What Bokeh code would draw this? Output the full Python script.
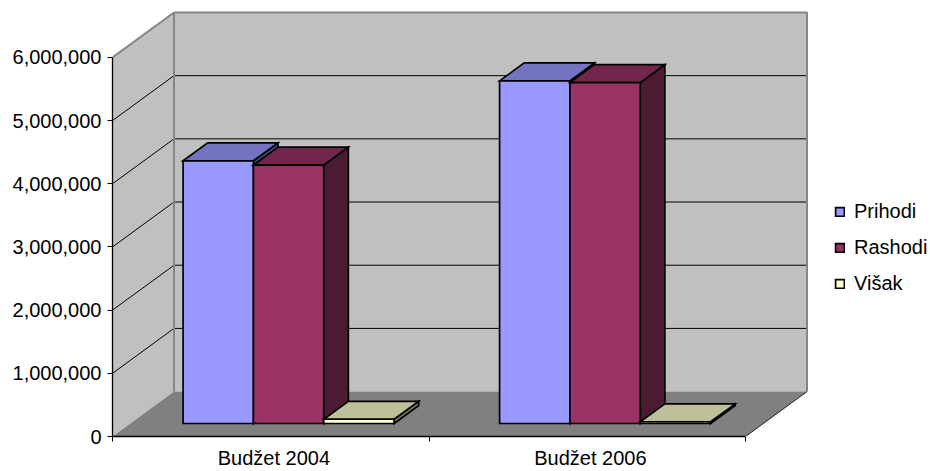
from bokeh.plotting import figure
from bokeh.models import (FixedTicker, NumeralTickFormatter, Legend, LegendItem, Range1d)
from bokeh.embed import file_html
from bokeh.resources import INLINE

categories = ["Budžet 2004", "Budžet 2006"]
series = ["Prihodi", "Rashodi", "Višak"]
prihodi = [4157000, 5422000]
rashodi = [4090000, 5395000]
visak = [67000, 27000]
values = [prihodi, rashodi, visak]
y_ticks = [0, 1000000, 2000000, 3000000, 4000000, 5000000, 6000000]

front_colors = ["#9999FF", "#993366", "#FFFFCC"]
top_colors = ["#7373BF", "#73264D", "#BFBF99"]
side_colors = ["#4D4D80", "#4D1A33", "#808066"]

FONT = "Liberation Sans"
FS = "20px"
W, H = 930, 471
L, B = 112, 437
CAT_PX = 316.5          # pixels per category
M_PX = 380 / 6000000    # pixels per value unit
DX = 61.5 / CAT_PX      # chart depth, x
DY = 45 / M_PX          # chart depth, y
BAR_W = 1 / 4.5
GAP = 0.75 * BAR_W
D0, D1 = 0.29, 0.69     # bar depth in chart depth fractions
YMAX = max(y_ticks)
n = len(categories)

p = figure(width=W, height=H, output_backend="svg", toolbar_location=None,
           x_range=Range1d(0, (W - L) / CAT_PX), y_range=Range1d(0, B / M_PX),
           min_border_left=L, min_border_right=0, min_border_top=0, min_border_bottom=H - B,
           outline_line_color=None, margin=(0, 0, 0, 0))
p.grid.visible = False
p.background_fill_color = "white"
p.border_fill_color = "white"

# walls and floor
p.patches([[0, 0, DX, DX], [DX, DX, n + DX, n + DX]],
          [[0, YMAX, YMAX + DY, DY], [DY, YMAX + DY, YMAX + DY, DY]],
          fill_color="#C0C0C0", line_color=None)
p.patch([0, n, n + DX, DX], [0, 0, DY, DY], fill_color="#808080", line_color=None)

# gridlines
grid = y_ticks[1:-1]
p.multi_line([[0, DX, n + DX] for _ in grid], [[v, v + DY, v + DY] for v in grid],
             line_color="black", line_width=1)
# wall edges
p.multi_line([[0, DX, DX], [DX, n + DX, n + DX]],
             [[YMAX, YMAX + DY, DY], [YMAX + DY, YMAX + DY, DY]],
             line_color="#868686", line_width=2)
p.line([n, n + DX], [0, DY], line_color="#222222", line_width=1)

# bars
OL = dict(line_color="black", line_width=1.7, line_join="miter")
legend_items = []
ox, oy = D0 * DX, D0 * DY
bx, by = D1 * DX, D1 * DY
for i, (name, vals) in enumerate(zip(series, values)):
    x0 = [c + GAP + i * BAR_W + ox for c in range(n)]
    x1 = [x + BAR_W for x in x0]
    tops = [oy + v for v in vals]
    bot = [oy] * n
    p.patches([[b, b + bx - ox, b + bx - ox, b] for b in x1],
              [[t, t + by - oy, by, oy] for t in tops],
              fill_color=side_colors[i], **OL)
    p.patches([[a, a + bx - ox, b + bx - ox, b] for a, b in zip(x0, x1)],
              [[t, t + by - oy, t + by - oy, t] for t in tops],
              fill_color=top_colors[i], **OL)
    r = p.quad(left=x0, right=x1, bottom=bot, top=tops, fill_color=front_colors[i], **OL)
    legend_items.append(LegendItem(label=name, renderers=[r]))

legend = Legend(items=legend_items, location=(722, 141), background_fill_alpha=0, border_line_color=None,
                padding=0, margin=0, spacing=13, glyph_width=11, glyph_height=11, label_standoff=9,
                label_height=22, label_text_font=FONT, label_text_font_size=FS, label_text_color="black")
p.add_layout(legend, "center")

# axes
ya = p.yaxis[0]
ya.ticker = FixedTicker(ticks=y_ticks)
ya.formatter = NumeralTickFormatter(format="0,0")
ya.bounds = (0, YMAX)
ya.major_tick_in = 0
ya.major_tick_out = 5
ya.minor_tick_line_color = None
ya.major_label_standoff = 6
ya.axis_line_width = 1.3
ya.major_label_text_font = FONT
ya.major_label_text_font_size = FS
ya.major_label_text_color = "black"

xa = p.xaxis[0]
centers = [c + 0.51 for c in range(n)]
xa.ticker = FixedTicker(ticks=centers, minor_ticks=list(range(n + 1)))
xa.major_label_overrides = dict(zip(centers, categories))
xa.bounds = (0, n)
xa.major_tick_line_color = None
xa.major_tick_in = 0
xa.major_tick_out = 5
xa.minor_tick_in = 0
xa.minor_tick_out = 5
xa.major_label_standoff = 5
xa.major_label_text_baseline = "hanging"
xa.axis_line_width = 1.3
xa.major_label_text_font = FONT
xa.major_label_text_font_size = FS
xa.major_label_text_color = "black"

open("out.html", "w").write(file_html(p, INLINE))
